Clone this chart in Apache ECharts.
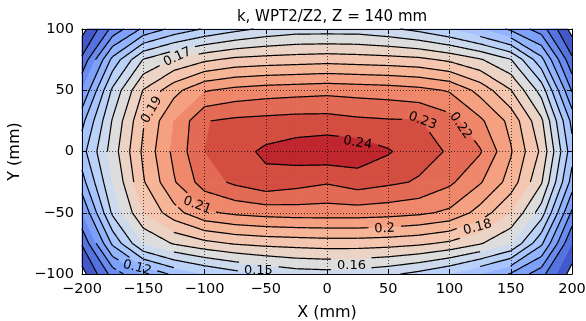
<!DOCTYPE html>
<html>
<head>
<meta charset="utf-8">
<script src="https://cdn.jsdelivr.net/npm/echarts@6/dist/echarts.min.js"></script>
<style>
  html, body { margin: 0; padding: 0; background: #fff; }
  #main { width: 586px; height: 321px; }
</style>
</head>
<body>
<div id="main"></div>
<script>
// measurement grid (mm)
const xs = [-200, -175, -150, -125, -100, -75, -50, -25, 0, 25, 50, 75, 100, 125, 150, 175, 200];
const ys = [-100, -75, -50, -25, 0, 25, 50, 75, 100];

// k values, one row per y (from y = -100 up to y = 100)
const kRows = [
  [0.076, 0.104, 0.121, 0.132, 0.140, 0.146, 0.151, 0.155, 0.156, 0.155, 0.152, 0.147, 0.140, 0.130, 0.119, 0.104, 0.075],
  [0.091, 0.132, 0.160, 0.171, 0.177, 0.181, 0.183, 0.184, 0.185, 0.185, 0.184, 0.182, 0.178, 0.171, 0.160, 0.132, 0.090],
  [0.110, 0.152, 0.180, 0.196, 0.208, 0.212, 0.214, 0.215, 0.215, 0.215, 0.214, 0.212, 0.208, 0.196, 0.180, 0.155, 0.108],
  [0.126, 0.160, 0.189, 0.209, 0.225, 0.232, 0.237, 0.234, 0.231, 0.235, 0.232, 0.229, 0.222, 0.211, 0.196, 0.171, 0.126],
  [0.136, 0.165, 0.192, 0.2125, 0.230, 0.236, 0.242, 0.245, 0.247, 0.246, 0.241, 0.234, 0.229, 0.221, 0.201, 0.178, 0.134],
  [0.127, 0.161, 0.189, 0.210, 0.2295, 0.232, 0.233, 0.234, 0.234, 0.232, 0.231, 0.2305, 0.224, 0.212, 0.197, 0.172, 0.127],
  [0.110, 0.152, 0.1805, 0.1965, 0.209, 0.213, 0.215, 0.216, 0.217, 0.216, 0.215, 0.213, 0.209, 0.1965, 0.1805, 0.156, 0.109],
  [0.092, 0.133, 0.1605, 0.171, 0.178, 0.1825, 0.184, 0.185, 0.186, 0.185, 0.184, 0.1825, 0.178, 0.171, 0.1605, 0.133, 0.092],
  [0.076, 0.103, 0.122, 0.133, 0.141, 0.147, 0.152, 0.155, 0.155, 0.155, 0.152, 0.147, 0.140, 0.130, 0.118, 0.105, 0.076]
];

// contour levels (fill bands and lines)
const levels = [0.08, 0.09, 0.10, 0.11, 0.12, 0.13, 0.14, 0.15, 0.16, 0.17, 0.18, 0.19, 0.20, 0.21, 0.22, 0.23, 0.24, 0.25];

// inline contour labels
const labelText  = ['0.17', '0.19', '0.21', '0.12', '0.15', '0.16', '0.2', '0.18', '0.24', '0.23', '0.22'];
const labelX     = [-122, -143, -106, -155, -56, 20, 47, 123, 25, 78, 109];
const labelY     = [77, 34, -44, -95, -97, -93, -63, -62, 7, 25, 21];
const labelAngle = [25, 60, -20, -15, 0, 0, 3, 15, -10, -20, -55];

const FONT = 'DejaVu Sans';
const LABEL_FS = 13;

// matplotlib coolwarm (Moreland table)
const CW = [
  [59,76,192],[68,90,204],[77,104,215],[87,117,225],[98,130,234],[108,142,241],[119,154,247],[130,165,251],
  [141,176,254],[152,185,255],[163,194,255],[174,201,253],[184,208,249],[194,213,244],[204,217,238],[213,219,230],
  [221,221,221],[229,216,209],[236,211,197],[241,204,185],[245,196,173],[247,187,160],[247,177,148],[247,166,135],
  [244,154,123],[241,141,111],[236,127,99],[229,112,88],[222,96,77],[213,80,66],[203,62,56],[192,40,47],[180,4,38]
];
function coolwarm(t) {
  t = Math.max(0, Math.min(1, t));
  const f = t * 32, i = Math.min(31, Math.floor(f)), r = f - i;
  const a = CW[i], b = CW[i + 1];
  return 'rgb(' + [0, 1, 2].map(k => Math.round(a[k] + (b[k] - a[k]) * r)).join(',') + ')';
}
function bandColor(b) {
  const lo = levels[0], hi = levels[levels.length - 1];
  const mid = (levels[b] + levels[b + 1]) / 2;
  return coolwarm((mid - lo) / (hi - lo));
}

function cellCorners(i, j) {
  return [
    [xs[i], ys[j], kRows[j][i]],
    [xs[i + 1], ys[j], kRows[j][i + 1]],
    [xs[i + 1], ys[j + 1], kRows[j + 1][i + 1]],
    [xs[i], ys[j + 1], kRows[j + 1][i]]
  ];
}
function interp(p, q, c) {
  const t = (c - p[2]) / (q[2] - p[2]);
  return [p[0] + t * (q[0] - p[0]), p[1] + t * (q[1] - p[1]), c];
}
function clip(poly, c, keepAbove) {
  const out = [];
  for (let n = 0; n < poly.length; n++) {
    const p = poly[n], q = poly[(n + 1) % poly.length];
    const pin = keepAbove ? p[2] >= c : p[2] <= c;
    const qin = keepAbove ? q[2] >= c : q[2] <= c;
    if (pin) out.push(p);
    if (pin !== qin && p[2] !== q[2]) out.push(interp(p, q, c));
  }
  return out;
}

const cells = [];
for (let j = 0; j < ys.length - 1; j++) {
  for (let i = 0; i < xs.length - 1; i++) cells.push([xs[i], ys[j], i, j]);
}

function renderFill(params, api) {
  const quad = cellCorners(api.value(2), api.value(3));
  const children = [];
  for (let b = 0; b < levels.length - 1; b++) {
    let poly = clip(quad, levels[b], true);
    if (poly.length < 3) continue;
    poly = clip(poly, levels[b + 1], false);
    if (poly.length < 3) continue;
    const col = bandColor(b);
    children.push({
      type: 'polygon',
      shape: { points: poly.map(p => api.coord([p[0], p[1]])) },
      style: { fill: col, stroke: col, lineWidth: 0.8 }
    });
  }
  return { type: 'group', children: children };
}

function labelBoxes(api) {
  return labelText.map((t, k) => ({
    c: api.coord([labelX[k], labelY[k]]),
    a: labelAngle[k] * Math.PI / 180,
    hw: t.length * LABEL_FS * 0.3 + 4,
    hh: 8
  }));
}
function hidden(boxes, x, y) {
  for (const b of boxes) {
    const dx = x - b.c[0], dy = y - b.c[1];
    const u = dx * Math.cos(b.a) - dy * Math.sin(b.a);
    const v = dx * Math.sin(b.a) + dy * Math.cos(b.a);
    if (Math.abs(u) < b.hw && Math.abs(v) < b.hh) return true;
  }
  return false;
}

function renderLines(params, api) {
  const q = cellCorners(api.value(2), api.value(3));
  const boxes = labelBoxes(api);
  const children = [];
  levels.forEach(c => {
    const pts = [];
    for (let e = 0; e < 4; e++) {
      const p = q[e], r = q[(e + 1) % 4];
      if ((p[2] - c) * (r[2] - c) < 0) pts.push(interp(p, r, c));
    }
    const segs = [];
    if (pts.length === 2) segs.push([pts[0], pts[1]]);
    else if (pts.length === 4) {
      const mid = (q[0][2] + q[1][2] + q[2][2] + q[3][2]) / 4;
      if ((mid - c) * (q[1][2] - c) > 0) { segs.push([pts[3], pts[0]]); segs.push([pts[1], pts[2]]); }
      else { segs.push([pts[0], pts[1]]); segs.push([pts[2], pts[3]]); }
    }
    segs.forEach(s => {
      const a = api.coord([s[0][0], s[0][1]]), b = api.coord([s[1][0], s[1][1]]);
      const len = Math.hypot(b[0] - a[0], b[1] - a[1]);
      const n = Math.max(1, Math.ceil(len));
      let run = [];
      for (let m = 0; m <= n; m++) {
        const x = a[0] + (b[0] - a[0]) * m / n, y = a[1] + (b[1] - a[1]) * m / n;
        if (hidden(boxes, x, y)) {
          if (run.length > 1) children.push(run);
          run = [];
        } else run.push([x, y]);
      }
      if (run.length > 1) children.push(run);
    });
  });
  return {
    type: 'group',
    children: children.map(pts => ({
      type: 'polyline',
      shape: { points: pts },
      style: { stroke: '#000', lineWidth: 1.2, fill: null }
    }))
  };
}

function renderLabel(params, api) {
  const k = api.value(2);
  const c = api.coord([labelX[k], labelY[k]]);
  return {
    type: 'text',
    x: c[0], y: c[1],
    rotation: labelAngle[k] * Math.PI / 180,
    style: {
      text: labelText[k], fill: '#000',
      font: LABEL_FS + 'px "' + FONT + '"',
      align: 'center', verticalAlign: 'middle'
    }
  };
}

const minus = v => String(v).replace('-', '\u2212');
const tickLabel = { color: '#000', fontFamily: FONT, fontSize: 14.5, formatter: minus };
const spine = { show: true, onZero: false, lineStyle: { color: '#000', width: 1 } };
const ticks = { show: true, inside: true, length: 5, lineStyle: { color: '#000', width: 1 } };
const dotted = { show: true, lineStyle: { color: '#000', width: 1, type: [1, 2], opacity: 0.7 } };
const nameStyle = { color: '#000', fontFamily: FONT, fontSize: 16 };

const chart = echarts.init(document.getElementById('main'), null, { renderer: 'canvas' });
chart.setOption({
  animation: false,
  backgroundColor: '#fff',
  title: {
    text: 'k, WPT2/Z2, Z = 140 mm',
    left: 327, top: 5, textAlign: 'center',
    textStyle: { color: '#000', fontFamily: FONT, fontSize: 15, fontWeight: 'normal' }
  },
  grid: { left: 82, right: 14, top: 29, bottom: 47, containLabel: false, outerBoundsMode: 'none' },
  xAxis: [
    {
      type: 'value', min: -200, max: 200, interval: 50, position: 'bottom', z: 5,
      name: 'X (mm)', nameLocation: 'middle', nameGap: 31, nameTextStyle: nameStyle,
      axisLine: spine, axisTick: ticks, axisLabel: Object.assign({ margin: 8 }, tickLabel), splitLine: dotted
    },
    {
      type: 'value', min: -200, max: 200, interval: 50, position: 'top', z: 5,
      axisLine: spine, axisTick: ticks, axisLabel: { show: false }, splitLine: { show: false }
    }
  ],
  yAxis: [
    {
      type: 'value', min: -100, max: 100, interval: 50, position: 'left', z: 5,
      name: 'Y (mm)', nameLocation: 'middle', nameGap: 47, nameTextStyle: nameStyle,
      axisLine: spine, axisTick: ticks, axisLabel: Object.assign({ margin: 8 }, tickLabel), splitLine: dotted
    },
    {
      type: 'value', min: -100, max: 100, interval: 50, position: 'right', z: 5,
      axisLine: spine, axisTick: ticks, axisLabel: { show: false }, splitLine: { show: false }
    }
  ],
  series: [
    { type: 'custom', z: 1, coordinateSystem: 'cartesian2d', renderItem: renderFill, data: cells, silent: true },
    { type: 'custom', z: 2, coordinateSystem: 'cartesian2d', renderItem: renderLines, data: cells, silent: true },
    {
      type: 'custom', z: 6, coordinateSystem: 'cartesian2d', renderItem: renderLabel, silent: true,
      data: labelText.map((t, k) => [labelX[k], labelY[k], k])
    }
  ]
});
</script>
</body>
</html>
